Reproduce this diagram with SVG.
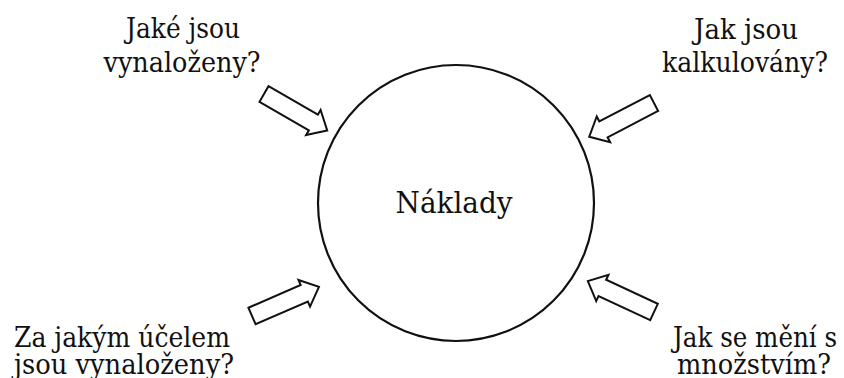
<svg xmlns="http://www.w3.org/2000/svg" width="844" height="378" viewBox="0 0 844 378">
<style>
text{font-family:'DejaVu Serif','Liberation Serif',serif;fill:#111;text-anchor:middle;font-size:28px}
.main{font-size:30.5px}
.arr{fill:#fff;stroke:#111;stroke-width:2;stroke-linejoin:miter}
</style>
<defs>
<path id="blockArrow" d="M0,-9 L57,-9 L57,-14.5 L73,0 L57,14.5 L57,9 L0,9 Z"/>
</defs>
<rect width="844" height="378" fill="#fff"/>
<g id="naklady">
<circle cx="456" cy="203" r="138" fill="none" stroke="#111" stroke-width="2.2"/>
<text class="main" x="454" y="213" textLength="117" lengthAdjust="spacingAndGlyphs">Náklady</text>
</g>
<g id="q-vynalozeny">
<text x="183" y="38" textLength="114" lengthAdjust="spacingAndGlyphs">Jaké jsou</text>
<text x="182" y="72" textLength="157" lengthAdjust="spacingAndGlyphs">vynaloženy?</text>
</g>
<g id="q-kalkulovany">
<text x="746" y="39" textLength="104" lengthAdjust="spacingAndGlyphs">Jak jsou</text>
<text x="745" y="72" textLength="166" lengthAdjust="spacingAndGlyphs">kalkulovány?</text>
</g>
<g id="q-ucel">
<text x="122" y="347" textLength="216" lengthAdjust="spacingAndGlyphs">Za jakým účelem</text>
<text x="124" y="374" textLength="220" lengthAdjust="spacingAndGlyphs">jsou vynaloženy?</text>
</g>
<g id="q-mnozstvi">
<text x="755" y="347" textLength="164" lengthAdjust="spacingAndGlyphs">Jak se mění s</text>
<text x="754" y="374" textLength="154" lengthAdjust="spacingAndGlyphs">množstvím?</text>
</g>
<g id="connectors">
<use href="#blockArrow" class="arr" transform="translate(264,94) rotate(30)"/>
<use href="#blockArrow" class="arr" transform="translate(654,103) rotate(152.5)"/>
<use href="#blockArrow" class="arr" transform="translate(252,316) rotate(-23.5)"/>
<use href="#blockArrow" class="arr" transform="translate(654,312) rotate(205)"/>
</g>
</svg>
